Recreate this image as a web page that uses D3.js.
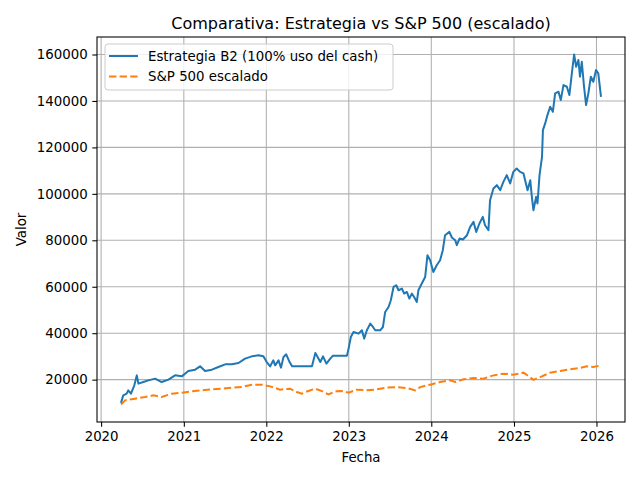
<!DOCTYPE html>
<html>
<head>
<meta charset="utf-8">
<script src="https://cdn.jsdelivr.net/npm/d3@7"></script>
<style>
  body { margin: 0; background: #fff; }
  svg { font-family: "DejaVu Sans", sans-serif; }
</style>
</head>
<body>
<div id="chart"></div>
<script>
// series (date, value)
var stratDates = ["2020-03-29","2020-04-08","2020-04-23","2020-04-30","2020-05-12","2020-05-27","2020-06-07","2020-06-14","2020-07-06","2020-07-28","2020-08-27","2020-09-25","2020-10-25","2020-11-23","2020-12-23",
  "2021-01-21","2021-02-20","2021-03-14","2021-04-05","2021-05-05","2021-06-03","2021-07-03","2021-08-01","2021-08-31","2021-09-29","2021-10-29","2021-11-27","2021-12-19",
  "2022-01-03","2022-01-18","2022-02-01","2022-02-09","2022-02-24","2022-03-07","2022-03-18","2022-03-30","2022-04-14","2022-04-25","2022-07-22","2022-08-06","2022-08-16","2022-08-28","2022-09-09","2022-09-24","2022-10-11","2022-10-23","2022-12-24","2022-12-31",
  "2023-01-10","2023-01-22","2023-02-13","2023-02-28","2023-03-10","2023-03-22","2023-04-06","2023-04-18","2023-04-28","2023-05-20","2023-06-01","2023-06-11","2023-06-26","2023-07-06","2023-07-18","2023-07-30","2023-08-09","2023-08-24","2023-09-03","2023-09-15","2023-09-26","2023-10-07","2023-10-17","2023-10-29","2023-11-05","2023-11-20","2023-12-05","2023-12-15","2023-12-27",
  "2024-01-10","2024-01-25","2024-02-09","2024-02-21","2024-03-02","2024-03-21","2024-04-01","2024-04-16","2024-04-23","2024-05-05","2024-05-20","2024-06-07","2024-06-21","2024-07-06","2024-07-18","2024-08-01","2024-08-16","2024-08-26","2024-09-10","2024-09-17","2024-10-02","2024-10-17","2024-11-01","2024-11-15","2024-11-30","2024-12-15","2024-12-29",
  "2025-01-13","2025-01-28","2025-02-12","2025-03-02","2025-03-14","2025-03-21","2025-03-28","2025-04-09","2025-04-15","2025-04-24","2025-05-05","2025-05-09","2025-05-19","2025-05-29","2025-06-10","2025-06-22","2025-07-02","2025-07-17","2025-07-27","2025-08-08","2025-08-23","2025-09-03","2025-09-14","2025-09-24","2025-10-03","2025-10-13","2025-10-20","2025-10-28","2025-11-07","2025-11-16","2025-11-26","2025-12-07","2025-12-18","2025-12-30",
  "2026-01-09","2026-01-21"];
var stratValues = [10000,13230,13960,15390,13960,17540,21850,18270,18960,19700,20430,18960,20000,21850,21420,
  23700,24300,25730,23700,24300,25430,26590,26590,27150,29050,30040,30470,30040,
  27580,25730,28320,26160,28320,25170,29740,30900,27580,25730,25730,31460,29740,27580,30040,26890,29050,30340,30340,33360,
  38360,40510,39820,41250,37670,41250,44130,42670,41250,41250,42670,49140,51290,54180,59910,60640,58490,59220,57060,57760,54910,57060,55600,53440,58490,61370,64220,73570,71420,
  66370,69260,71420,75730,82190,83610,81200,80040,77880,80770,80340,82190,85770,87920,83610,87230,90080,86500,84350,97280,102320,103740,101590,105160,108050,104480,109470,
  110940,109470,108780,101590,105900,98700,92970,98700,95850,108050,115940,127450,130330,133910,137490,135330,143260,143950,140380,146840,146110,142530,151880,160000,154730,157620,150420,156880,146110,138220,143260,150420,148260,153310,
  151880,141800];

var spDates = ["2020-03-29","2020-04-16","2020-05-30","2020-07-13","2020-08-19","2020-09-25","2020-11-09","2020-12-23",
  "2021-02-05","2021-03-21","2021-05-05","2021-06-18","2021-08-01","2021-09-14","2021-10-29","2021-12-12",
  "2022-01-18","2022-03-03","2022-04-16","2022-05-16","2022-06-07","2022-07-06","2022-08-06","2022-09-04","2022-10-03","2022-11-02","2022-12-01","2022-12-31",
  "2023-02-06","2023-03-22","2023-05-05","2023-06-18","2023-08-01","2023-09-15","2023-10-22","2023-11-13","2023-12-27",
  "2024-02-09","2024-03-25","2024-04-16","2024-05-23","2024-07-06","2024-08-19","2024-10-02","2024-11-15","2024-12-29",
  "2025-02-12","2025-03-06","2025-03-28","2025-04-27","2025-06-10","2025-07-24","2025-09-06","2025-10-20","2025-11-19","2025-12-18",
  "2026-01-21"];
var spValues = [9300,11080,11810,12500,13230,12500,13960,14390,
  14960,15390,15820,16120,16550,16810,17840,17840,
  17110,15690,16120,14650,13960,15090,16120,15090,13660,14960,15090,14390,
  15690,15390,15820,16550,16810,16380,15390,16810,17840,
  18960,19700,18960,20130,20690,20430,21850,22580,22150,
  23010,21550,19900,21120,23010,23700,24440,25000,25730,25430,
  26160];

var yTicks = [20000,40000,60000,80000,100000,120000,140000,160000];
var xTickYears = [2020,2021,2022,2023,2024,2025,2026];
var seriesNames = ["Estrategia B2 (100% uso del cash)", "S&P 500 escalado"];

var parse = d3.timeParse("%Y-%m-%d");
var strat = stratDates.map(function(d, i) { return {date: parse(d), value: stratValues[i]}; });
var sp = spDates.map(function(d, i) { return {date: parse(d), value: spValues[i]}; });

var W = 640, H = 480;
var margin = {top: 37, right: 15, bottom: 58, left: 97};
var width = W - margin.left - margin.right,
    height = H - margin.top - margin.bottom;

var svg = d3.select("#chart").append("svg")
    .attr("width", W).attr("height", H);

var g = svg.append("g")
    .attr("transform", "translate(" + margin.left + "," + margin.top + ")");

// matplotlib-like 5% padding
var all = strat.concat(sp);
var tExt = d3.extent(all, function(d) { return +d.date; });
var vExt = d3.extent(all, function(d) { return d.value; });
var tPad = (tExt[1] - tExt[0]) * 0.05, vPad = (vExt[1] - vExt[0]) * 0.05;

var x = d3.scaleTime()
    .domain([new Date(tExt[0] - tPad), new Date(tExt[1] + tPad)])
    .range([0, width]);
var y = d3.scaleLinear()
    .domain([vExt[0] - vPad, vExt[1] + vPad])
    .range([height, 0]);

var xTicks = xTickYears.map(function(yr) { return new Date(yr, 0, 1); });

// grid
g.append("g").selectAll("line").data(xTicks).enter().append("line")
    .attr("x1", function(d) { return x(d); }).attr("x2", function(d) { return x(d); })
    .attr("y1", 0).attr("y2", height)
    .attr("stroke", "#b0b0b0").attr("stroke-width", 1.07);
g.append("g").selectAll("line").data(yTicks).enter().append("line")
    .attr("x1", 0).attr("x2", width)
    .attr("y1", function(d) { return y(d); }).attr("y2", function(d) { return y(d); })
    .attr("stroke", "#b0b0b0").attr("stroke-width", 1.07);

// lines
var line = d3.line()
    .x(function(d) { return x(d.date); })
    .y(function(d) { return y(d.value); });

g.append("path").datum(strat)
    .attr("d", line)
    .attr("fill", "none").attr("stroke", "#1f77b4").attr("stroke-width", 2)
    .attr("stroke-linejoin", "round");
g.append("path").datum(sp)
    .attr("d", line)
    .attr("fill", "none").attr("stroke", "#ff7f0e").attr("stroke-width", 2)
    .attr("stroke-dasharray", "7.4,3.2");

// axes
var xAxis = g.append("g")
    .attr("transform", "translate(0," + height + ")")
    .call(d3.axisBottom(x).tickValues(xTicks).tickFormat(d3.timeFormat("%Y"))
        .tickSize(4.67).tickPadding(4.67));
var yAxis = g.append("g")
    .call(d3.axisLeft(y).tickValues(yTicks).tickFormat(d3.format("d"))
        .tickSize(4.67).tickPadding(4.67));
[xAxis, yAxis].forEach(function(a) {
  a.select(".domain").remove();
  a.selectAll("text").attr("font-size", "13.33px").attr("fill", "#000")
    .attr("font-family", "DejaVu Sans");
  a.selectAll("line").attr("stroke", "#000").attr("stroke-width", 1.07);
});

// frame
g.append("rect")
    .attr("width", width).attr("height", height)
    .attr("fill", "none").attr("stroke", "#000").attr("stroke-width", 1.07);

// titles
svg.append("text")
    .attr("x", margin.left + width / 2).attr("y", 29)
    .attr("text-anchor", "middle").attr("font-size", "16px")
    .text("Comparativa: Estrategia vs S&P 500 (escalado)");
svg.append("text")
    .attr("x", margin.left + width / 2).attr("y", 462)
    .attr("text-anchor", "middle").attr("font-size", "13.33px")
    .text("Fecha");
svg.append("text")
    .attr("transform", "translate(26," + (margin.top + height / 2) + ") rotate(-90)")
    .attr("text-anchor", "middle").attr("font-size", "13.33px")
    .text("Valor");

// legend
var lg = g.append("g").attr("transform", "translate(8,7)");
lg.append("rect")
    .attr("width", 288).attr("height", 46).attr("rx", 3)
    .attr("fill", "#fff").attr("fill-opacity", 0.8)
    .attr("stroke", "#cccccc").attr("stroke-width", 1);
var entries = [
  {name: seriesNames[0], color: "#1f77b4", dash: null},
  {name: seriesNames[1], color: "#ff7f0e", dash: "7.4,3.2"}
];
entries.forEach(function(e, i) {
  var yy = 12 + i * 20.5;
  lg.append("line")
      .attr("x1", 4).attr("x2", 33).attr("y1", yy).attr("y2", yy)
      .attr("stroke", e.color).attr("stroke-width", 2)
      .attr("stroke-dasharray", e.dash);
  lg.append("text")
      .attr("x", 43).attr("y", yy).attr("dy", "0.35em")
      .attr("font-size", "13.33px")
      .text(e.name);
});
</script>
</body>
</html>
